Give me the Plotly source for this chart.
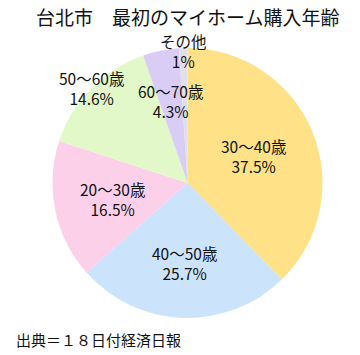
import math
import plotly.graph_objects as go

title_text = "台北市　最初のマイホーム購入年齢"
source_text = "出典＝１８日付経済日報"
labels = ["30～40歳", "40～50歳", "20～30歳", "50～60歳", "60～70歳", "その他"]
values = [37.5, 25.7, 16.5, 14.6, 4.3, 1]
colors = ["#FFE187", "#CCE4FB", "#FDD0EA", "#E2F8C9", "#D9CDF5", "#E0E0EC"]
label_radius = [0.53, 0.59, 0.57, 1.0, 0.62, 0.98]

W, H = 360, 355
cx, cy, R = 187.5, 183.0, 135.0

fig = go.Figure(go.Pie(
    labels=labels, values=values, sort=False, direction="clockwise", rotation=0,
    marker=dict(colors=colors, line=dict(width=0)),
    textinfo="none", hoverinfo="label+percent", showlegend=False,
    domain=dict(x=[(cx - R) / W, (cx + R) / W], y=[1 - (cy + R) / H, 1 - (cy - R) / H]),
))

total = sum(values)
cum = 0.0
font = "Noto Sans CJK JP"
for lab, v, rf in zip(labels, values, label_radius):
    mid = (cum + v / 2) / total * 2 * math.pi
    cum += v
    px = cx + rf * R * math.sin(mid)
    py = cy - rf * R * math.cos(mid)
    fig.add_annotation(x=px / W, y=1 - py / H, xref="paper", yref="paper",
                       text=f"{lab}<br>{v:g}%", showarrow=False,
                       font=dict(family=font, size=15.5, color="#111"),
                       xanchor="center", yanchor="middle", align="center")

fig.add_annotation(x=187 / W, y=1 - 16 / H, xref="paper", yref="paper",
                   text=title_text, showarrow=False,
                   font=dict(family=font, size=19, color="#111"),
                   xanchor="center", yanchor="middle", borderpad=0)
fig.add_annotation(x=14 / W, y=1 - 339 / H, xref="paper", yref="paper",
                   text=source_text, showarrow=False,
                   font=dict(family=font, size=15, color="#111"),
                   xanchor="left", yanchor="middle")

fig.update_layout(width=W, height=H, margin=dict(l=0, r=0, t=0, b=0),
                  paper_bgcolor="white", plot_bgcolor="white")
fig.write_html("out.html", config={"displayModeBar": False},
               post_script="document.body.style.margin='0';document.body.style.overflow='hidden';")
